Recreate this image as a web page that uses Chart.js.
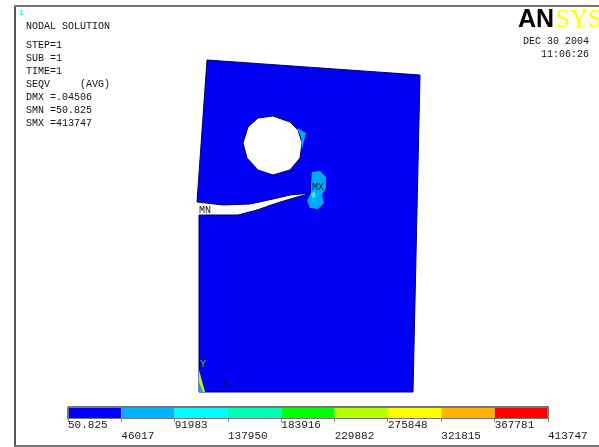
<!DOCTYPE html>
<html><head><meta charset="utf-8">
<style>
html,body{margin:0;padding:0;background:#fff;overflow:hidden}
#wrap{position:absolute;left:0;top:0;width:599px;height:447px}
#frameL{position:absolute;left:14px;top:5px;width:2px;height:441px;background:#555}
#frameT{position:absolute;left:14px;top:5px;width:585px;height:2px;background:#777}
#frameB{position:absolute;left:14px;top:445px;width:585px;height:2px;background:#777}
canvas{position:absolute;left:0;top:0}
</style>
<script src="https://cdn.jsdelivr.net/npm/chart.js@4"></script>
</head><body>
<div id="wrap"><div id="frameL"></div><div id="frameT"></div><div id="frameB"></div>
<canvas id="c" width="599" height="447"></canvas></div>
<script>
// Model coordinates: origin at the plate's lower-left corner, Y upward
const plateX=[8,221,214,0,0,39,58,78,98,113,91,74,51,24,-2];
const plateY=[332,317,0,0,177,177,182,189,195,199,197,193,188,187,190];
const holeX=[44,49,59,74,91,99,103,101,91,74,59,48];
const holeY=[249,265,274,276,270,262,249,234,222,217,222,234];
const patchHoleX=[98,107,103,102];
const patchHoleY=[264,259,243,255];
const patchTipX=[113,121,127,127,123,125,119,111,108,112,112];
const patchTipY=[220,221,215,204,197,189,183,184,191,199,209];
const coreTipX=[112,116,117,113];
const coreTipY=[199,200,195,194];
const hotTipX=[113];
const hotTipY=[200];
const wedgeOuterX=[0,6,0];
const wedgeOuterY=[22,0,0];
const wedgeInnerX=[0,4,0];
const wedgeInnerY=[10,0,0];
const levels=[50.825,46017,91983,137950,183916,229882,275848,321815,367781,413747];
const levelLabels=['50.825','46017','91983','137950','183916','229882','275848','321815','367781','413747'];
const levelColors=['#0000ff','#00b2ff','#00ffff','#00ffb2','#00ff00','#b2ff00','#ffff00','#ffb200','#ff0000'];
const barBand=[-15,-27];
const infoLines=['NODAL SOLUTION','','STEP=1','SUB =1','TIME=1','SEQV     (AVG)','DMX =.04506','SMN =50.825','SMX =413747'];
const stampLines=['DEC 30 2004','11:06:26'];

// page geometry
const W=599,H=447,barLeft=68,barRight=548,axisBottom=419,plateLeft=199,plateBase=392;
const unit=(levels[9]-levels[0])/(barRight-barLeft);
const poly=(xs,ys)=>xs.map((x,i)=>({x,y:ys[i]}));
const shape=(xs,ys,fill,line,w)=>({type:'line',xAxisID:'x',yAxisID:'y',data:poly(xs,ys).concat([{x:xs[0],y:ys[0]}]),
  backgroundColor:fill,borderColor:line,borderWidth:w,pointRadius:0,fill:'shape',tension:0,parsing:false});
const band=(lo,hi,fill,line,w)=>({type:'line',xAxisID:'xBar',yAxisID:'y',
  data:[{x:lo,y:barBand[0]},{x:hi,y:barBand[0]},{x:hi,y:barBand[1]},{x:lo,y:barBand[1]},{x:lo,y:barBand[0]}],
  backgroundColor:fill,borderColor:line,borderWidth:w,pointRadius:0,fill:fill==='transparent'?false:'shape',tension:0,parsing:false});
const layers=[
  shape(plateX,plateY,'#0000f4','#000060',1),
  shape(holeX,holeY,'#ffffff','#000060',1),
  shape(patchHoleX,patchHoleY,'#00aaff','#00aaff',0),
  shape(patchTipX,patchTipY,'#00aaff','#00aaff',0),
  shape(coreTipX,coreTipY,'#00ffff','#00ffff',0),
  {type:'scatter',xAxisID:'x',yAxisID:'y',data:poly(hotTipX,hotTipY),pointRadius:1,backgroundColor:'#ff7a00',borderWidth:0},
  shape(wedgeOuterX,wedgeOuterY,'#b2ff00','#b2ff00',0),
  shape(wedgeInnerX,wedgeInnerY,'#00aaff','#00aaff',0)
];
levelColors.forEach((col,i)=>layers.push(band(levels[i],levels[i+1],col,col,0)));
layers.push(band(levels[0],levels[9],'transparent','#777777',2));
// Chart.js paints the first dataset last, so the list runs top layer first
const datasets=layers.slice().reverse();

const textPlugin={id:'annotationText',afterDatasetsDraw(ch){
  const g=ch.ctx,sx=ch.scales.x,sy=ch.scales.y;
  g.save();g.textBaseline='alphabetic';g.textAlign='left';
  g.fillStyle='#00ffff';g.font='bold 8px "Liberation Sans"';g.fillText('1',19,15);
  g.fillStyle='#111';g.font='10px "Liberation Mono"';
  let yy=29;
  infoLines.forEach(t=>{ if(t===''){yy+=6;return;} g.fillText(t,26,yy);yy+=13;});
  g.textAlign='right';
  g.fillText(stampLines[0],589,44);g.fillText(stampLines[1],589,57);
  g.textAlign='left';
  g.font='bold 25px "Liberation Sans"';g.fillStyle='#000';g.fillText('AN',518,27);
  g.font='25px "Liberation Serif"';g.fillStyle='#ffff00';g.fillText('SYS',556,27);
  g.fillStyle='#111';g.font='10px "Liberation Mono"';
  g.fillText('MN',sx.getPixelForValue(0),sy.getPixelForValue(179));
  g.fillText('MX',sx.getPixelForValue(113),sy.getPixelForValue(202));
  g.fillStyle='#7ac000';g.fillText('Y',sx.getPixelForValue(1),sy.getPixelForValue(25));
  g.fillStyle='#111';g.fillText('X',sx.getPixelForValue(23),sy.getPixelForValue(5));
  g.restore();
}};

new Chart(document.getElementById('c'),{
  data:{datasets},
  plugins:[textPlugin],
  options:{
    responsive:false,animation:false,devicePixelRatio:1,
    layout:{padding:0,autoPadding:false},
    plugins:{legend:{display:false},tooltip:{enabled:false},title:{display:false}},
    scales:{
      x:{type:'linear',display:false,min:-plateLeft,max:W-plateLeft},
      y:{type:'linear',display:false,min:plateBase-axisBottom,max:plateBase},
      xBar:{type:'linear',position:'bottom',
        min:levels[0]-barLeft*unit,max:levels[9]+(W-barRight)*unit,
        border:{display:false},grid:{display:true,drawOnChartArea:false,drawTicks:true,tickLength:3,color:'#888'},
        afterBuildTicks(s){s.ticks=levels.map(v=>({value:v}));},
        afterFit(s){s.height=H-axisBottom;},
        ticks:{autoSkip:false,maxRotation:0,minRotation:0,align:'start',padding:-3,color:'#222',
          font:{family:'"Liberation Mono"',size:11,lineHeight:1.05},
          callback(v,i){const t=levelLabels[i];return i%2===0&&i<9?[t,'']:['',t];}}
      }
    }
  }
});
</script></body></html>
